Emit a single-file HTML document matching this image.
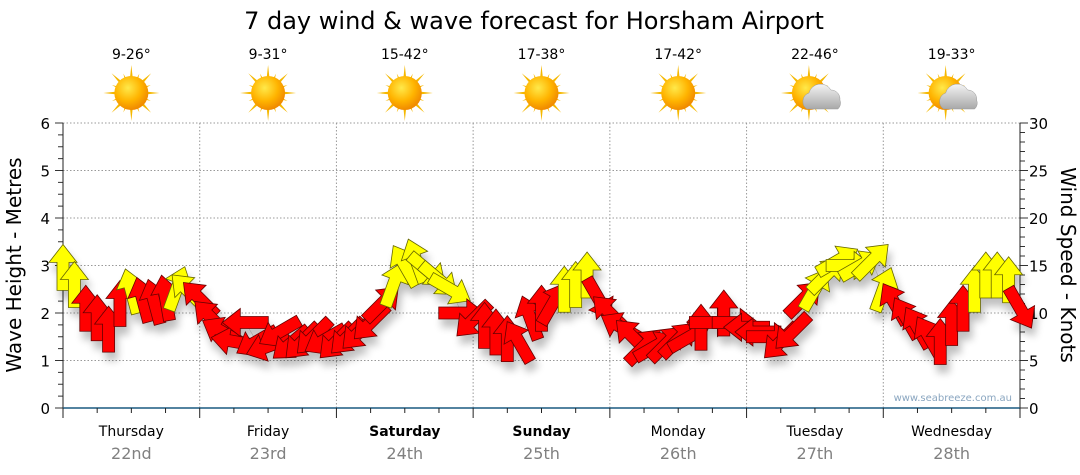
<!DOCTYPE html>
<html><head><meta charset="utf-8"><style>
body{margin:0;background:#fff;}
svg{display:block;font-family:"DejaVu Sans","Liberation Sans",sans-serif;}
</style></head><body>
<svg id="c" width="1080" height="475">
<defs>
<filter id="sh" x="-50%" y="-50%" width="200%" height="200%"><feGaussianBlur in="SourceAlpha" stdDeviation="4"/><feOffset dx="3" dy="8"/><feComponentTransfer><feFuncA type="linear" slope="0.25"/></feComponentTransfer><feMerge><feMergeNode/><feMergeNode in="SourceGraphic"/></feMerge></filter>
<radialGradient id="sun" cx="40%" cy="35%" r="65%"><stop offset="0" stop-color="#ffe94a"/><stop offset="0.6" stop-color="#ffb400"/><stop offset="1" stop-color="#f08a00"/></radialGradient>
<linearGradient id="cloud" x1="0" y1="0" x2="0" y2="1"><stop offset="0" stop-color="#f4f4f4"/><stop offset="1" stop-color="#a8a8a8"/></linearGradient>
</defs>
<text x="534" y="29" font-size="24" text-anchor="middle" fill="#000">7 day wind &amp; wave forecast for Horsham Airport</text>
<g id="grid"></g><g id="axes"></g><g id="icons"></g>
<g id="series" filter="url(#sh)"></g>
<text x="1012" y="401" font-size="10" text-anchor="end" fill="#8aa6c0">www.seabreeze.com.au</text>
<text transform="translate(21,265) rotate(-90)" font-size="20" text-anchor="middle">Wave Height - Metres</text>
<text transform="translate(1061,265) rotate(90)" font-size="20" text-anchor="middle">Wind Speed - Knots</text>
</svg>
<script>
const days=["Thursday","Friday","Saturday","Sunday","Monday","Tuesday","Wednesday"];
const dates=["22nd","23rd","24th","25th","26th","27th","28th"];
const boldDays=[false,false,true,true,false,false,false];
const temps=["9-26°","9-31°","15-42°","17-38°","17-42°","22-46°","19-33°"];
const cloudy=[false,false,false,false,false,true,true];
const leftTicks=[0,1,2,3,4,5,6];
const rightTicks=[0,5,10,15,20,25,30];
const windSpeed=[14.8,13,10.5,9.5,8.3,11,12.3,11.4,11.2,11.6,12.6,12.3,
11.5,9.5,8,7,9,7,6.5,8,6.8,7,7.5,7.2,
7,7.5,8,9,11,13,15,15.5,14.5,13.5,12.5,10,
9.3,8.7,8,7.3,7,9.5,10.5,11,12.5,13,14,11.5,
10,8.5,7.5,6.5,6.5,6.8,7.2,7.5,8.5,9,10,9,
8.5,8,7.5,7,8,11.5,12.5,14,15.5,15,15,15.5,
12.5,11,9.5,8.5,7.5,7,9,10.5,12.5,14,14,13.5,10.5];
const windDir=[0,0,0,0,0,0,345,345,345,350,20,315,
315,315,300,280,270,240,250,240,230,225,225,240,
225,225,225,225,45,20,330,340,130,130,120,90,
225,0,0,0,330,340,0,30,0,0,0,150,
315,300,315,45,60,45,45,60,0,90,0,90,
270,270,90,225,225,45,30,45,60,90,60,45,
20,330,330,330,330,0,0,0,0,0,0,0,150];
const X0=63,X1=1020,YB=408,YT=123,HOURS=168;
const NS="http://www.w3.org/2000/svg";
function xs(h){return X0+h/HOURS*(X1-X0);}
function yl(m){return YB-m/6*(YB-YT);}
function yr(k){return YB-k/30*(YB-YT);}
function mk(tag,attrs,parent){const e=document.createElementNS(NS,tag);for(const k in attrs)e.setAttribute(k,attrs[k]);parent.appendChild(e);return e;}
const grid=document.getElementById('grid'),axes=document.getElementById('axes'),icons=document.getElementById('icons'),series=document.getElementById('series');
leftTicks.forEach(t=>{if(t>0){const l=mk('line',{x1:X0,x2:X1,y1:yl(t),y2:yl(t),stroke:'#999','stroke-dasharray':'1.5,2','stroke-width':1},grid);}
const tx=mk('text',{x:50,y:yl(t)+6,'font-size':15,'text-anchor':'end'},axes);tx.textContent=t;});
for(let m=0;m<=24;m++){mk('line',{x1:X0-(m%4?5:8),x2:X0,y1:yl(m/4),y2:yl(m/4),stroke:'#333'},axes);}
rightTicks.forEach(t=>{const tx=mk('text',{x:1029,y:yr(t)+6,'font-size':15},axes);tx.textContent=t;});
for(let k=0;k<=30;k++){mk('line',{x1:X1,x2:X1+(k%5?5:8),y1:yr(k),y2:yr(k),stroke:'#333'},axes);}
mk('line',{x1:X0,x2:X0,y1:YT,y2:YB,stroke:'#222'},axes);
mk('line',{x1:X1,x2:X1,y1:YT,y2:YB,stroke:'#222'},axes);
mk('line',{x1:X0,x2:X1,y1:YB,y2:YB,stroke:'#1a5a80','stroke-width':1.5},axes);
for(let h=0;h<=HOURS;h+=6){mk('line',{x1:xs(h),x2:xs(h),y1:YB,y2:YB+(h%24?5:10),stroke:'#222'},axes);}
days.forEach((d,i)=>{const xb=xs(24*(i+1)),xc=xs(24*i+12);
if(i<6){const l=mk('line',{x1:xb,x2:xb,y1:YT,y2:YB,stroke:'#999','stroke-dasharray':'1.5,2'},grid);}
const t=mk('text',{x:xc,y:436,'font-size':14,'text-anchor':'middle','font-weight':boldDays[i]?'bold':'normal'},axes);t.textContent=d;
const t2=mk('text',{x:xc,y:459,'font-size':16,'text-anchor':'middle',fill:'#808080'},axes);t2.textContent=dates[i];
const t3=mk('text',{x:xc,y:59,'font-size':14,'text-anchor':'middle'},icons);t3.textContent=temps[i];
const g=mk('g',{transform:'translate('+(xc-(cloudy[i]?6:0))+',93)'},icons);
for(let r=0;r<16;r++){const a=r*22.5,L=r%2?21:28;mk('polygon',{points:'-3,0 3,0 0,-'+L,fill:'#f5b800',transform:'rotate('+a+')'},g);}
mk('circle',{r:17,fill:'url(#sun)'},g);
if(cloudy[i]){mk('path',{d:'M-2,16 a9,9 0 0 1 2,-16 a12,12 0 0 1 22,-3 a9,9 0 0 1 9,10 a8,8 0 0 1 -2,9 z',fill:'url(#cloud)',stroke:'#999','stroke-width':0.5},g);}
});
let pts=windSpeed.map((s,i)=>xs(i*2)+','+yr(s)).join(' ');
const pl=mk('polyline',{points:pts,fill:'none',stroke:'#aaa','stroke-width':1},series);

windSpeed.forEach((s,i)=>{const x=xs(i*2),y=yr(s);
const a=mk('polygon',{points:'0,-23 14,-5 6,-5 6,23 -6,23 -6,-5 -14,-5',fill:s>=12?'#ffff00':'#ff0000',stroke:s>=12?'#666600':'#660000','stroke-width':0.8,transform:'translate('+x+','+y+') rotate('+windDir[i]+')'},series);
});
</script>
</body></html>
